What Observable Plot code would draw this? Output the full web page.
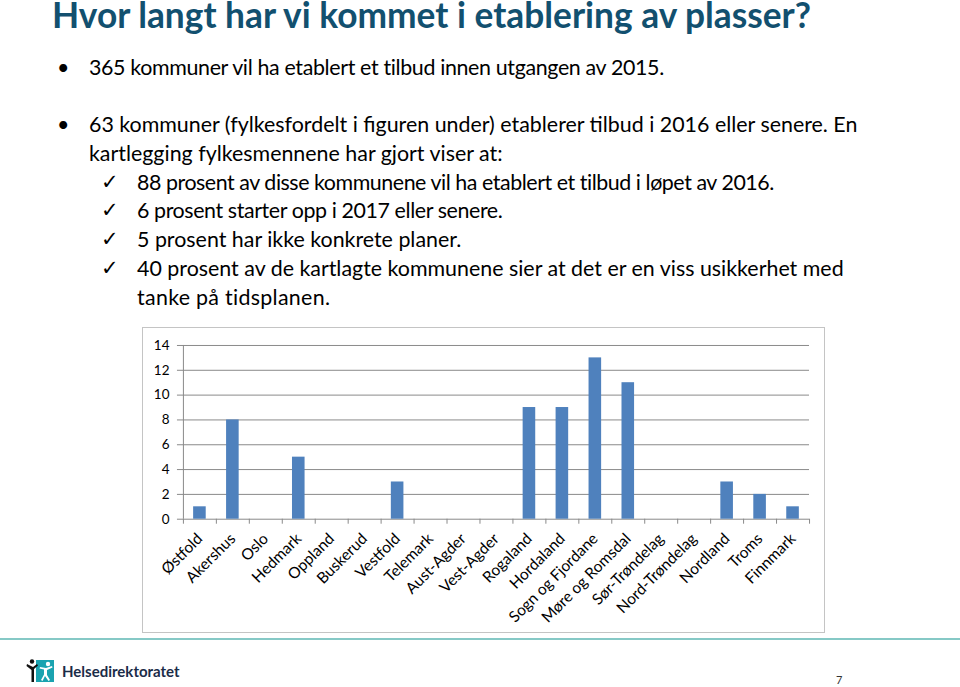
<!DOCTYPE html>
<html>
<head>
<meta charset="utf-8">
<script src="https://cdn.jsdelivr.net/npm/d3@7"></script>
<script src="https://cdn.jsdelivr.net/npm/@observablehq/plot@0.6"></script>
<style>
  html, body { margin: 0; padding: 0; background: #fff; }
  body { width: 960px; height: 687px; position: relative; overflow: hidden; font-family: Lato, "Open Sans", sans-serif; color: #000; }
  .abs { position: absolute; white-space: nowrap; }
  .title { left: 52px; top: 2px; font-size: 35.3px; font-weight: 700; color: #12506f; line-height: 26px; }
  .line { font-size: 21.4px; line-height: 28px; }
  .mark { font-family: "DejaVu Sans", sans-serif; font-size: 21px; line-height: 28px; }
  #chartbox { position: absolute; left: 142px; top: 327px; width: 683px; height: 306px; border: 1px solid #c4c4c4; box-sizing: border-box; }
  #chart { position: absolute; left: -1px; top: -1px; }
  .rule { position: absolute; left: 0; top: 638px; width: 960px; height: 2px; background: #86c9c6; }
  .logo-text { left: 62px; top: 660px; font-size: 15px; font-weight: 700; color: #1b2c48; line-height: 22px; }
  .pnum { left: 836px; top: 673px; font-size: 11px; color: #333; line-height: 14px; }
</style>
</head>
<body>
<div class="abs title">Hvor langt har vi kommet i etablering av plasser?</div>

<div class="abs line" style="left:57px;top:53px;">•</div>
<div class="abs line" style="left:89px;top:53px;letter-spacing:-0.35px;">365 kommuner vil ha etablert et tilbud innen utgangen av 2015.</div>

<div class="abs line" style="left:57px;top:110px;">•</div>
<div class="abs line" style="left:89px;top:110px;">63 kommuner (fylkesfordelt i figuren under) etablerer tilbud i 2016 eller senere. En</div>
<div class="abs line" style="left:89px;top:139px;">kartlegging fylkesmennene har gjort viser at:</div>

<div class="abs mark" style="left:101px;top:168px;">✓</div>
<div class="abs line" style="left:137px;top:168px;letter-spacing:-0.45px;">88 prosent av disse kommunene vil ha etablert et tilbud i løpet av 2016.</div>
<div class="abs mark" style="left:101px;top:196px;">✓</div>
<div class="abs line" style="left:137px;top:196px;letter-spacing:-0.4px;">6 prosent starter opp i 2017 eller senere.</div>
<div class="abs mark" style="left:101px;top:225px;">✓</div>
<div class="abs line" style="left:137px;top:225px;">5 prosent har ikke konkrete planer.</div>
<div class="abs mark" style="left:101px;top:254px;">✓</div>
<div class="abs line" style="left:137px;top:254px;">40 prosent av de kartlagte kommunene sier at det er en viss usikkerhet med</div>
<div class="abs line" style="left:137px;top:283px;letter-spacing:0.3px;">tanke på tidsplanen.</div>

<div id="chartbox"><div id="chart"></div></div>

<div class="rule"></div>

<svg class="abs" style="left:26px;top:658px;" width="30" height="26" viewBox="0 0 30 26">
  <rect x="10" y="2" width="18" height="22" fill="#1aa3b0"/>
  <circle cx="6" cy="3.5" r="2.2" fill="#111"/>
  <path d="M1 6 L7 9 L11 6 L12 7.5 L8 11 L8 24 L5.5 24 L5.5 12 L0.5 8 Z" fill="#111"/>
  <circle cx="22" cy="6" r="2.2" fill="#fff"/>
  <path d="M14 9 L20 10 L26 8 L26.5 9.5 L21 12 L21 17 L24 22 L22.5 23 L19 18 L16.5 23 L15 22 L18 16.5 L18 11.5 L13.5 10.5 Z" fill="#fff"/>
</svg>
<div class="abs logo-text">Helsedirektoratet</div>
<div class="abs pnum">7</div>

<script>
const counties = ["Østfold","Akershus","Oslo","Hedmark","Oppland","Buskerud","Vestfold","Telemark","Aust-Agder","Vest-Agder","Rogaland","Hordaland","Sogn og Fjordane","Møre og Romsdal","Sør-Trøndelag","Nord-Trøndelag","Nordland","Troms","Finnmark"];
const municipalities = [1,8,0,5,0,0,3,0,0,0,9,9,13,11,0,0,3,2,1];
const yTicks = [0,2,4,6,8,10,12,14];

const data = counties.map((c, i) => ({county: c, value: municipalities[i]}));

const W = 683, H = 306;
const mL = 40, mR = 15, mT = 18, mB = 114;
const step = (W - mL - mR) / counties.length;
const gridColor = "#8a8a8a";
const font = "Lato, 'Open Sans', sans-serif";

const chart = Plot.plot({
  width: W,
  height: H,
  marginLeft: mL,
  marginRight: mR,
  marginTop: mT,
  marginBottom: mB,
  style: {fontFamily: font, fontSize: "13px", color: "#000", background: "transparent"},
  x: {type: "band", domain: counties, padding: 0, label: null},
  y: {domain: [0, 14], label: null},
  marks: [
    Plot.ruleY(yTicks, {y: d => d, stroke: gridColor, strokeWidth: 1, insetLeft: -5}),
    Plot.ruleX([counties[0]], {x: d => d, y1: 0, y2: 14, dx: -step / 2, stroke: gridColor}),
    Plot.barY(data, {x: "county", y: "value", fill: "#4f81bd", insetLeft: 10.2, insetRight: 10.2}),
    Plot.axisY({ticks: yTicks, tickSize: 0, tickPadding: 13, fontSize: 13.5, label: null}),
    Plot.axisX({tickSize: 5, tickFormat: () => "", dx: -step / 2, stroke: gridColor, label: null}),
    Plot.axisX({ticks: [counties[counties.length - 1]], tickSize: 5, tickFormat: () => "", dx: step / 2, stroke: gridColor, label: null}),
    Plot.axisX({tickSize: 0, tickRotate: -45, tickPadding: 17, fontSize: 15.5, label: null, dx: 0})
  ]
});
document.getElementById("chart").appendChild(chart);
</script>
</body>
</html>
